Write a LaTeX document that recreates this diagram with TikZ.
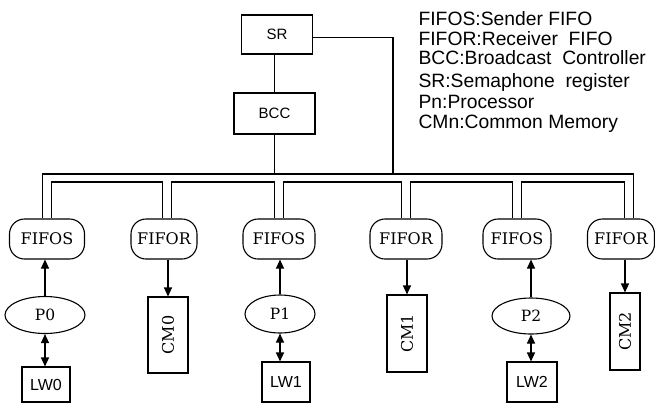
\documentclass[tikz,border=0pt]{standalone}
\usepackage{fontspec}
\setmainfont{DejaVu Serif}
\newfontfamily\hel{Liberation Sans}
\usetikzlibrary{arrows.meta,shapes.geometric}
\begin{document}
\begin{tikzpicture}[x=1pt,y=-1pt, line width=1.1pt,
  box/.style={draw, inner sep=0pt, font=\hel\fontsize{15}{15}\selectfont},
  lwbox/.style={box, font=\hel\fontsize{16}{16}\selectfont},
  fifo/.style={draw, rounded corners=15pt, minimum height=40pt, inner sep=0pt, font=\fontsize{16}{16}\selectfont},
  proc/.style={draw, ellipse, inner sep=0pt, font=\fontsize{15.5}{15.5}\selectfont},
  mem/.style={draw, inner sep=0pt},
  memtext/.style={rotate=90, inner sep=0pt, font=\fontsize{16}{16}\selectfont},
  legend/.style={anchor=base west, inner sep=0pt, font=\hel\fontsize{19.3}{20}\selectfont},
  tri/.style={-{Triangle[length=9pt,width=8pt]}},
  dtri/.style={{Triangle[length=9pt,width=8pt]}-{Triangle[length=9pt,width=8pt]}}
]
\useasboundingbox (0,0) rectangle (655,405);

% top
\node[box, minimum width=71pt, minimum height=39pt] (sr) at (277,34.5) {SR};
\node[box, minimum width=81pt, minimum height=41pt] (bcc) at (274.5,113.5) {BCC};

% FIFOs
\node[fifo, minimum width=75pt] (fs0) at (47,239) {FIFOS};
\node[fifo, minimum width=66pt] (fr0) at (164,239) {FIFOR};
\node[fifo, minimum width=72pt] (fs1) at (279,239) {FIFOS};
\node[fifo, minimum width=72pt] (fr1) at (406,239) {FIFOR};
\node[fifo, minimum width=68pt] (fs2) at (517,239) {FIFOS};
\node[fifo, minimum width=67pt] (fr2) at (621,239) {FIFOR};

% processors
\node[proc, minimum width=80pt, minimum height=37pt] (p0) at (45,315) {P0};
\node[proc, minimum width=70pt, minimum height=38pt] (p1) at (280,314) {P1};
\node[proc, minimum width=78pt, minimum height=36pt] (p2) at (531,316) {P2};

% local memories
\node[lwbox, minimum width=48pt, minimum height=35pt] (lw0) at (46,384.5) {LW0};
\node[lwbox, minimum width=48pt, minimum height=40pt] (lw1) at (286,382) {LW1};
\node[lwbox, minimum width=50pt, minimum height=40pt] (lw2) at (532,382) {LW2};

% common memories
\node[mem, minimum width=40pt, minimum height=76pt] (cm0) at (168,335) {};
\node[memtext] (cm0t) at (cm0) {CM0};
\node[mem, minimum width=40pt, minimum height=77pt] (cm1) at (407,333.5) {};
\node[memtext] (cm1t) at (cm1) {CM1};
\node[mem, minimum width=30pt, minimum height=77pt] (cm2) at (625,331.5) {};
\node[memtext] (cm2t) at (cm2) {CM2};

% bus coordinates
\coordinate (busO) at (0,174);
\coordinate (busI) at (0,182);
\coordinate (srj) at (393,174);
\foreach \n/\d in {fs0/0,fr0/3,fs1/0,fr1/0,fs2/0,fr2/8}{
  \coordinate (\n L) at ([xshift=\d pt-4.5pt]\n.north);
  \coordinate (\n R) at ([xshift=\d pt+4.5pt]\n.north);
}
% outer bus line
\draw (fs0L) -- (fs0L |- busO) -- (fr2R |- busO) -- (fr2R);
% inner bus segments
\draw (fs0R) -- (fs0R |- busI) -- (fr0L |- busI) -- (fr0L);
\draw (fr0R) -- (fr0R |- busI) -- (fs1L |- busI) -- (fs1L);
\draw (fs1R) -- (fs1R |- busI) -- (fr1L |- busI) -- (fr1L);
\draw (fr1R) -- (fr1R |- busI) -- (fs2L |- busI) -- (fs2L);
\draw (fs2R) -- (fs2R |- busI) -- (fr2L |- busI) -- (fr2L);

% SR / BCC connections
\draw (bcc.north) -- (bcc.north |- sr.south);
\draw (bcc.south) -- (bcc.south |- busO);
\draw ([yshift=-3pt]sr.east) -| (srj);

% arrows
\draw[tri] (p0.north) -- (p0.north |- fs0.south);
\draw[tri] (p1.north) -- (p1.north |- fs1.south);
\draw[tri] (p2.north) -- (p2.north |- fs2.south);
\draw[dtri] (p0.south) -- (p0.south |- lw0.north);
\draw[dtri] (p1.south) -- (p1.south |- lw1.north);
\draw[dtri] (p2.south) -- (p2.south |- lw2.north);
\draw[tri] (fr0.south -| cm0.north) -- (cm0.north);
\draw[tri] (fr1.south -| cm1.north) -- (cm1.north);
\draw[tri] (fr2.south -| cm2.north) -- (cm2.north);

% legend
\node[legend] (l1) at (418,25) {FIFOS:Sender FIFO};
\node[legend] (l2) at (418,45) {FIFOR:Receiver\ \ FIFO};
\node[legend] (l3) at (418,64) {BCC:Broadcast\ \ Controller};
\node[legend] (l4) at (418,87) {SR:Semaphone\ \ register};
\node[legend] (l5) at (418,108) {Pn:Processor};
\node[legend] (l6) at (418,128) {CMn:Common Memory};
\end{tikzpicture}
\end{document}
